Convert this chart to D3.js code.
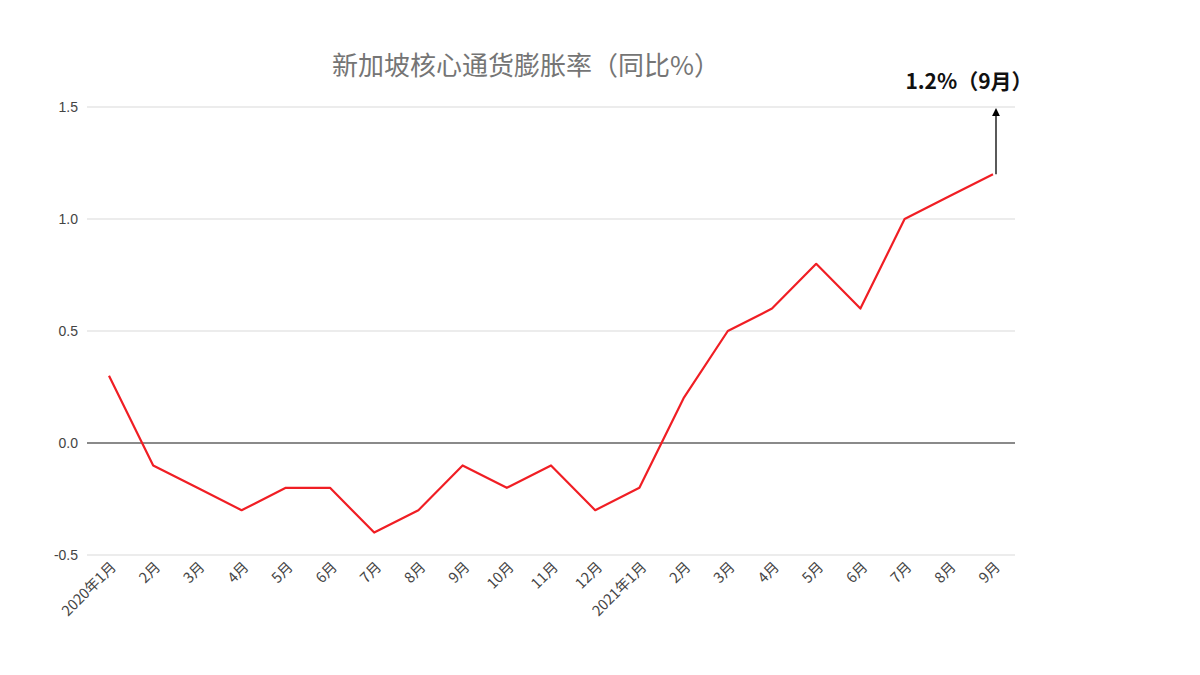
<!DOCTYPE html>
<html><head><meta charset="utf-8">
<script src="https://cdn.jsdelivr.net/npm/d3@7"></script>
<style>body{margin:0;background:#fff;font-family:"Noto Sans CJK SC","Liberation Sans",Arial,sans-serif}</style>
</head><body>
<svg id="c" width="1200" height="675"></svg>
<script>
const categories = ["2020年1月","2月","3月","4月","5月","6月","7月","8月","9月","10月","11月","12月","2021年1月","2月","3月","4月","5月","6月","7月","8月","9月"];
const values = [0.3,-0.1,-0.2,-0.3,-0.2,-0.2,-0.4,-0.3,-0.1,-0.2,-0.1,-0.3,-0.2,0.2,0.5,0.6,0.8,0.6,1.0,1.1,1.2];
const yTicks = [-0.5,0,0.5,1.0,1.5];
const yTickLabels = ["-0.5","0.0","0.5","1.0","1.5"];
const title = "新加坡核心通货膨胀率（同比%）";
const note = "1.2%（9月）";

const svg = d3.select("#c");
const x = d3.scalePoint().domain(d3.range(categories.length)).range([109,993]);
const y = d3.scaleLinear().domain([-0.5,1.5]).range([555,107]);

// gridlines
svg.append("g").selectAll("line").data(yTicks).join("line")
  .attr("x1",87).attr("x2",1015)
  .attr("y1",d=>y(d)).attr("y2",d=>y(d))
  .attr("stroke",d=>d===0?"#8a8a8a":"#d9d9d9")
  .attr("stroke-width",d=>d===0?2:1.2);

// y labels
svg.append("g").selectAll("text").data(yTicks).join("text")
  .attr("x",78).attr("y",d=>y(d)+5)
  .attr("text-anchor","end").attr("font-size",14).attr("fill","#444")
  .attr("font-family","Liberation Sans, Arial, sans-serif")
  .text((d,i)=>yTickLabels[i]);

// x labels
svg.append("g").selectAll("text").data(categories).join("text")
  .attr("transform",(d,i)=>`translate(${x(i)+8},${568}) rotate(-45)`)
  .attr("text-anchor","end").attr("font-size",14.5).attr("fill","#444")
  .text(d=>d);

// line
const line = d3.line().x((d,i)=>x(i)).y(d=>y(d));
svg.append("path").datum(values).attr("d",line)
  .attr("fill","none").attr("stroke","#f01e24").attr("stroke-width",2.2)
  .attr("stroke-linejoin","round");

// title
svg.append("text").attr("x",526).attr("y",75).attr("text-anchor","middle")
  .attr("font-size",26).attr("fill","#757575").text(title);

// annotation
svg.append("defs").append("marker").attr("id","ah").attr("viewBox","0 0 10 10")
  .attr("refX",5).attr("refY",5).attr("markerWidth",6).attr("markerHeight",8)
  .attr("orient","auto").append("path").attr("d","M0,0L10,5L0,10Z").attr("fill","#000");
const lx = x(categories.length-1)+3;
svg.append("line").attr("x1",lx).attr("x2",lx)
  .attr("y1",y(values[values.length-1])).attr("y2",y(1.5)+5)
  .attr("stroke","#000").attr("stroke-width",1.3).attr("marker-end","url(#ah)");
svg.append("text").attr("x",969).attr("y",89).attr("text-anchor","middle")
  .attr("font-size",21).attr("font-weight","bold").attr("fill","#111").text(note);
</script>
</body></html>
